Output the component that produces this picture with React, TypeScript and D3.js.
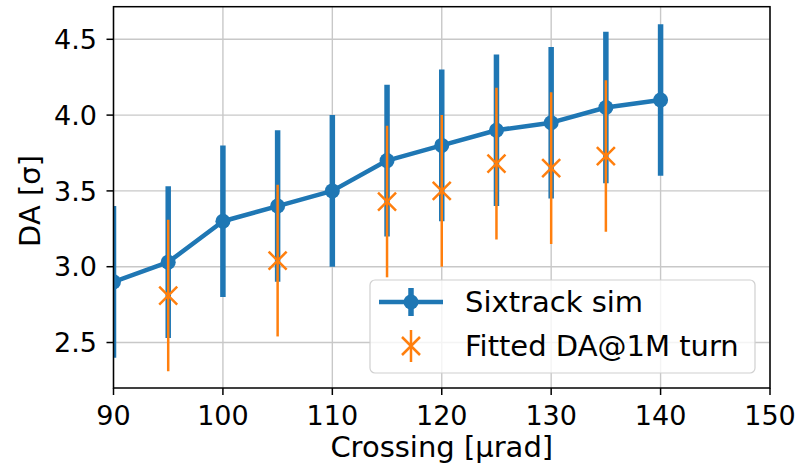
import React from "react";
import * as d3 from "d3";

// Sixtrack simulated dynamic aperture vs crossing angle
const simCrossing = [90, 95, 100, 105, 110, 115, 120, 125, 130, 135, 140];
const simDA = [2.9, 3.03, 3.3, 3.4, 3.5, 3.7, 3.8, 3.9, 3.95, 4.05, 4.1];
const simErr = [0.5, 0.5, 0.5, 0.5, 0.5, 0.5, 0.5, 0.5, 0.5, 0.5, 0.5];

// Fitted DA extrapolated to 1M turns
const fitCrossing = [95, 105, 115, 120, 125, 130, 135];
const fitDA = [2.81, 3.04, 3.43, 3.5, 3.68, 3.65, 3.73];
const fitErr = [0.5, 0.5, 0.5, 0.5, 0.5, 0.5, 0.5];

const xTicks = [90, 100, 110, 120, 130, 140, 150];
const yTicks = [2.5, 3.0, 3.5, 4.0, 4.5];

const legendLabels = ["Sixtrack sim", "Fitted DA@1M turn"];

const W = 806;
const H = 464;
const M = { left: 113.5, right: 770, top: 6.7, bottom: 388 };

const BLUE = "#1f77b4";
const ORANGE = "#ff7f0e";
const FONT = "DejaVu Sans, sans-serif";
const FS = 27; // tick labels
const LFS = 29; // axis labels and legend

export default function App() {
  const x = d3.scaleLinear().domain([90, 150]).range([M.left, M.right]);
  const y = d3.scaleLinear().domain([2.2, 4.715]).range([M.bottom, M.top]);

  const line = d3
    .line<number>()
    .x((_, i) => x(simCrossing[i]))
    .y((d) => y(d));

  const xMark = (cx: number, cy: number, r: number, key: string) => (
    <path
      key={key}
      d={`M${cx - r},${cy - r}L${cx + r},${cy + r}M${cx - r},${cy + r}L${cx + r},${cy - r}`}
      stroke={ORANGE}
      strokeWidth={2.5}
      fill="none"
    />
  );

  const legX = 370;
  const legY = 280;
  const row1 = 302;
  const row2 = 346;
  const hx = 411;

  return (
    <svg
      width={W}
      height={H}
      style={{ position: "absolute", left: 0, top: 0, background: "#fff" }}
      fontFamily={FONT}
    >
      <defs>
        <clipPath id="plot">
          <rect x={M.left} y={M.top} width={M.right - M.left} height={M.bottom - M.top} />
        </clipPath>
      </defs>

      {/* grid */}
      <g stroke="#c8c8c8" strokeWidth={1.4}>
        {xTicks.map((t) => (
          <line key={"gx" + t} x1={x(t)} x2={x(t)} y1={M.top} y2={M.bottom} />
        ))}
        {yTicks.map((t) => (
          <line key={"gy" + t} x1={M.left} x2={M.right} y1={y(t)} y2={y(t)} />
        ))}
      </g>

      <g clipPath="url(#plot)">
        {/* simulation error bars */}
        {simCrossing.map((c, i) => (
          <line
            key={"se" + i}
            x1={x(c)}
            x2={x(c)}
            y1={y(simDA[i] - simErr[i])}
            y2={y(simDA[i] + simErr[i])}
            stroke={BLUE}
            strokeWidth={5.5}
          />
        ))}
        <path d={line(simDA) ?? ""} fill="none" stroke={BLUE} strokeWidth={4.5} strokeLinejoin="round" />
        {simCrossing.map((c, i) => (
          <circle key={"sp" + i} cx={x(c)} cy={y(simDA[i])} r={7.5} fill={BLUE} />
        ))}

        {/* fitted values */}
        {fitCrossing.map((c, i) => (
          <line
            key={"fe" + i}
            x1={x(c)}
            x2={x(c)}
            y1={y(fitDA[i] - fitErr[i])}
            y2={y(fitDA[i] + fitErr[i])}
            stroke={ORANGE}
            strokeWidth={2.5}
          />
        ))}
        {fitCrossing.map((c, i) => xMark(x(c), y(fitDA[i]), 9, "fm" + i))}
      </g>

      {/* spines */}
      <rect
        x={M.left}
        y={M.top}
        width={M.right - M.left}
        height={M.bottom - M.top}
        fill="none"
        stroke="#000"
        strokeWidth={1.5}
      />

      {/* x axis */}
      {xTicks.map((t) => (
        <g key={"xt" + t}>
          <line x1={x(t)} x2={x(t)} y1={M.bottom} y2={M.bottom + 7} stroke="#000" strokeWidth={1.5} />
          <text x={x(t)} y={425} textAnchor="middle" fontSize={FS} fill="#000">
            {t}
          </text>
        </g>
      ))}
      <text x={(M.left + M.right) / 2} y={457} textAnchor="middle" fontSize={LFS} fill="#000">
        Crossing [μrad]
      </text>

      {/* y axis */}
      {yTicks.map((t) => (
        <g key={"yt" + t}>
          <line x1={M.left - 7} x2={M.left} y1={y(t)} y2={y(t)} stroke="#000" strokeWidth={1.5} />
          <text x={97} y={y(t)} dy="0.36em" textAnchor="end" fontSize={FS} fill="#000">
            {t.toFixed(1)}
          </text>
        </g>
      ))}
      <text
        transform={`translate(40,201) rotate(-90)`}
        textAnchor="middle"
        fontSize={LFS}
        fill="#000"
      >
        DA [σ]
      </text>

      {/* legend */}
      <rect
        x={legX}
        y={legY}
        width={385}
        height={93}
        rx={5}
        fill="#fff"
        fillOpacity={0.8}
        stroke="#d0d0d0"
        strokeWidth={1.2}
      />
      <line x1={379} x2={443} y1={row1} y2={row1} stroke={BLUE} strokeWidth={4.5} />
      <line x1={hx} x2={hx} y1={row1 - 14} y2={row1 + 14} stroke={BLUE} strokeWidth={5.5} />
      <circle cx={hx} cy={row1} r={7.5} fill={BLUE} />
      <line x1={hx} x2={hx} y1={row2 - 16} y2={row2 + 16} stroke={ORANGE} strokeWidth={2.5} />
      {xMark(hx, row2, 9, "legx")}
      <text x={465} y={row1} dy="0.36em" fontSize={LFS} fill="#000">
        {legendLabels[0]}
      </text>
      <text x={465} y={row2} dy="0.36em" fontSize={LFS} fill="#000">
        {legendLabels[1]}
      </text>
    </svg>
  );
}
